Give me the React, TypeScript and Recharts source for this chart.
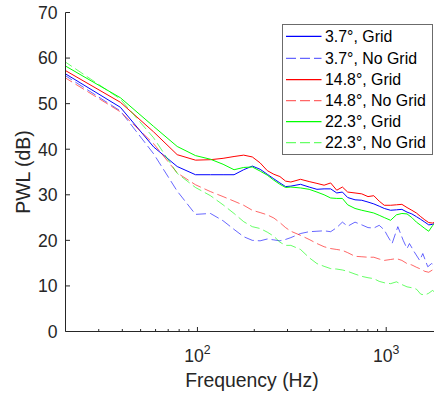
import React from 'react';
import { LineChart, Line, XAxis, YAxis, Legend, Label } from 'recharts';

const FONT = '"Liberation Sans", Arial, Helvetica, sans-serif';
const AX = '#262626';

// Frequency bins (Hz) of the spectra
const freqHz = [19.53, 39.06, 58.59, 78.13, 97.66, 117.2, 136.7, 156.3, 175.8, 195.3, 214.8, 234.4, 253.9, 273.4, 293.0, 312.5, 351.6, 390.6, 429.7, 468.8, 507.8, 546.9, 585.9, 625.0, 683.6, 742.2, 800.8, 859.4, 918.0, 976.6, 1054.7, 1132.8, 1210.9, 1289.1, 1367.2, 1445.3, 1523.4, 1601.6, 1679.7, 1757.8, 1816.4];
const freqHzNoGrid37 = [19.53, 39.06, 58.59, 78.13, 97.66, 117.2, 136.7, 156.3, 175.8, 195.3, 214.8, 234.4, 253.9, 273.4, 293.0, 312.5, 351.6, 390.6, 429.7, 468.8, 507.8, 546.9, 585.9, 625.0, 683.6, 742.2, 800.8, 859.4, 918.0, 976.6, 1015.6, 1074.2, 1152.3, 1230.5, 1289.1, 1328.1, 1406.3, 1503.9, 1562.5, 1660.2, 1738.3, 1816.4];

// PWL (dB)
const grid37 = [56.8, 49.2, 40.5, 36.2, 34.4, 34.4, 34.4, 34.4, 35.5, 36.3, 35.6, 34.5, 33.5, 32.6, 31.8, 31.9, 32.3, 31.7, 31.2, 31.3, 31.3, 30.4, 30.6, 29.4, 28.9, 28.8, 28.4, 28.0, 27.5, 27.0, 26.6, 26.7, 26.8, 26.2, 25.8, 25.2, 24.6, 24.0, 23.4, 23.5, 23.8];
const noGrid37 = [56.4, 48.4, 39.0, 30.8, 25.7, 25.9, 24.3, 22.4, 20.8, 20.0, 19.9, 20.3, 20.1, 19.9, 20.2, 20.6, 21.5, 21.9, 22.0, 22.1, 21.9, 22.8, 24.0, 23.1, 24.0, 23.4, 22.8, 22.7, 23.3, 22.3, 21.0, 19.3, 23.0, 20.0, 18.2, 19.3, 17.5, 15.6, 17.1, 14.2, 14.9, 14.5];
const grid148 = [57.5, 50.3, 43.8, 38.8, 37.6, 37.7, 38.0, 38.4, 38.7, 38.3, 37.0, 35.3, 34.5, 34.0, 33.0, 32.8, 33.4, 32.9, 32.5, 32.1, 32.6, 31.0, 31.7, 30.6, 30.4, 30.2, 29.6, 29.8, 28.6, 27.7, 27.7, 27.8, 27.9, 27.2, 26.6, 26.0, 25.2, 24.5, 23.9, 23.8, 24.0];
const noGrid148 = [55.9, 48.2, 41.2, 34.8, 32.2, 30.7, 29.6, 28.6, 27.7, 26.6, 26.1, 25.6, 24.9, 23.9, 22.8, 22.0, 21.1, 20.2, 19.3, 18.6, 18.2, 18.0, 17.8, 17.3, 16.5, 16.4, 16.3, 16.3, 15.9, 15.6, 15.8, 16.0, 15.6, 14.9, 14.6, 14.1, 13.7, 13.2, 13.0, 13.5, 13.2];
const grid223 = [58.5, 51.3, 45.0, 40.6, 38.6, 37.8, 36.7, 35.5, 36.0, 36.1, 35.2, 34.3, 33.2, 32.3, 31.6, 31.7, 31.5, 31.2, 30.6, 30.0, 29.3, 29.2, 29.2, 27.8, 27.0, 26.6, 26.3, 26.0, 25.5, 25.0, 24.4, 25.6, 25.9, 25.8, 25.0, 24.0, 23.3, 22.6, 22.0, 23.2, 23.8];
const noGrid223 = [59.4, 51.0, 42.5, 34.7, 31.6, 29.8, 27.8, 25.9, 24.1, 23.0, 22.6, 21.8, 20.9, 19.6, 18.9, 18.9, 18.0, 16.2, 14.9, 14.3, 13.8, 13.7, 13.5, 13.2, 12.6, 12.1, 11.8, 11.6, 11.0, 10.7, 10.5, 10.9, 10.3, 9.8, 9.6, 9.3, 8.2, 8.0, 8.4, 9.0, 8.6];

const seriesNames = ['3.7°, Grid', '3.7°, No Grid', '14.8°, Grid', '14.8°, No Grid', '22.3°, Grid', '22.3°, No Grid'];
const xTicks = [30, 40, 50, 60, 70, 80, 90, 100, 200, 300, 400, 500, 600, 700, 800, 900, 1000];
const yTicks = [0, 10, 20, 30, 40, 50, 60, 70];

const DASH = '10 4';

const series = [
  { name: seriesNames[0], f: freqHz, v: grid37, color: '#0000ff', dashed: false },
  { name: seriesNames[1], f: freqHzNoGrid37, v: noGrid37, color: '#0000ff', dashed: true },
  { name: seriesNames[2], f: freqHz, v: grid148, color: '#ff0000', dashed: false },
  { name: seriesNames[3], f: freqHz, v: noGrid148, color: '#ff0000', dashed: true },
  { name: seriesNames[4], f: freqHz, v: grid223, color: '#00ff00', dashed: false },
  { name: seriesNames[5], f: freqHz, v: noGrid223, color: '#00ff00', dashed: true },
].map((s) => ({ ...s, data: s.f.map((f, i) => ({ f, v: s.v[i] })) }));

const BottomTick = (props: any) => {
  const { x, y, payload } = props;
  const val = payload.value;
  const major = val === 100 || val === 1000;
  const exp = Math.round(Math.log10(val));
  return (
    <g>
      <line x1={x} y1={y} x2={x} y2={y - (major ? 4.5 : 2.5)} stroke={AX} strokeWidth={1} />
      {major && (
        <text x={x} y={y + 30} textAnchor="middle" fontFamily={FONT} fill={AX}>
          <tspan fontSize={17.6}>10</tspan>
          <tspan fontSize={12.3} dy={-8}>{exp}</tspan>
        </text>
      )}
    </g>
  );
};

const TopTick = (props: any) => {
  const { x, y, payload } = props;
  const major = payload.value === 100 || payload.value === 1000;
  return <line x1={x} y1={y} x2={x} y2={y + (major ? 4.5 : 2.5)} stroke={AX} strokeWidth={1} />;
};

const LeftTick = (props: any) => {
  const { x, y, payload } = props;
  return (
    <g>
      <line x1={x} y1={y} x2={x + 4.5} y2={y} stroke={AX} strokeWidth={1} />
      <text x={x - 8} y={y} dy="0.36em" textAnchor="end" fontFamily={FONT} fontSize={17.6} fill={AX}>
        {payload.value}
      </text>
    </g>
  );
};

const legendRows = [12.3, 34.3, 55.7, 76.7, 97.7, 118.7];

const LegendBox = () => (
  <svg width={151} height={131} style={{ display: 'block' }}>
    <rect x={0.5} y={0.5} width={150} height={130} fill="#ffffff" stroke="#6b6b6b" strokeWidth={1} />
    {series.map((s, i) => {
      const cy = legendRows[i];
      return (
        <g key={s.name}>
          <line
            x1={4}
            x2={39.5}
            y1={cy}
            y2={cy}
            stroke={s.color}
            strokeWidth={1.2}
            strokeOpacity={s.dashed ? 0.6 : 1}
            strokeDasharray={s.dashed ? DASH : undefined}
          />
          <text x={43} y={cy} dy="0.36em" fontFamily={FONT} fontSize={15.9} fill="#000000">
            {s.name}
          </text>
        </g>
      );
    })}
  </svg>
);

export default function App() {
  return (
    <div style={{ position: 'absolute', left: 0, top: 0, width: 434, height: 394, overflow: 'hidden', background: '#ffffff' }}>
      <LineChart width={436} height={394} margin={{ top: 12.5, right: 1.6, bottom: 0, left: 0 }}>
        <XAxis
          xAxisId="b"
          dataKey="f"
          type="number"
          scale="log"
          domain={[20, 1800]}
          allowDataOverflow
          ticks={xTicks}
          interval={0}
          height={62.5}
          tickSize={0}
          tickMargin={0}
          tickLine={false}
          axisLine={{ stroke: AX, strokeWidth: 1 }}
          tick={<BottomTick />}
        >
          <Label
            content={(p: any) => {
              const vb = p.viewBox || { x: 65.5, y: 331.5, width: 369 };
              return (
                <text x={vb.x + vb.width / 2 + 2} y={vb.y + 55.7} textAnchor="middle" fontFamily={FONT} fontSize={19.4} fill={AX}>
                  Frequency (Hz)
                </text>
              );
            }}
          />
        </XAxis>
        <XAxis
          xAxisId="t"
          orientation="top"
          dataKey="f"
          type="number"
          scale="log"
          domain={[20, 1800]}
          allowDataOverflow
          ticks={xTicks}
          interval={0}
          height={0}
          tickSize={0}
          tickMargin={0}
          tickLine={false}
          axisLine={{ stroke: AX, strokeWidth: 1 }}
          tick={<TopTick />}
        />
        <YAxis
          yAxisId="l"
          type="number"
          domain={[0, 70]}
          allowDataOverflow
          ticks={yTicks}
          interval={0}
          width={65.5}
          tickSize={0}
          tickMargin={0}
          tickLine={false}
          axisLine={{ stroke: AX, strokeWidth: 1 }}
          tick={<LeftTick />}
        >
          <Label
            content={(p: any) => {
              const vb = p.viewBox || { x: 0, y: 12.5, height: 319 };
              const cx = 29.5;
              const cy = vb.y + vb.height / 2;
              return (
                <text x={cx} y={cy} transform={`rotate(-90, ${cx}, ${cy})`} textAnchor="middle" fontFamily={FONT} fontSize={19.4} fill={AX}>
                  PWL (dB)
                </text>
              );
            }}
          />
        </YAxis>
        {series.map((s) => (
          <Line
            key={s.name}
            xAxisId="b"
            yAxisId="l"
            data={s.data}
            dataKey="v"
            name={s.name}
            type="linear"
            dot={false}
            activeDot={false}
            stroke={s.color}
            strokeWidth={1}
            strokeOpacity={s.dashed ? 0.6 : 1}
            strokeDasharray={s.dashed ? DASH : undefined}
            isAnimationActive={false}
          />
        ))}
        <Legend
          layout="vertical"
          align="center"
          verticalAlign="middle"
          wrapperStyle={{ position: 'absolute', left: 282, top: 24, width: 151, height: 131, margin: 0, padding: 0 }}
          content={() => <LegendBox />}
        />
      </LineChart>
    </div>
  );
}
